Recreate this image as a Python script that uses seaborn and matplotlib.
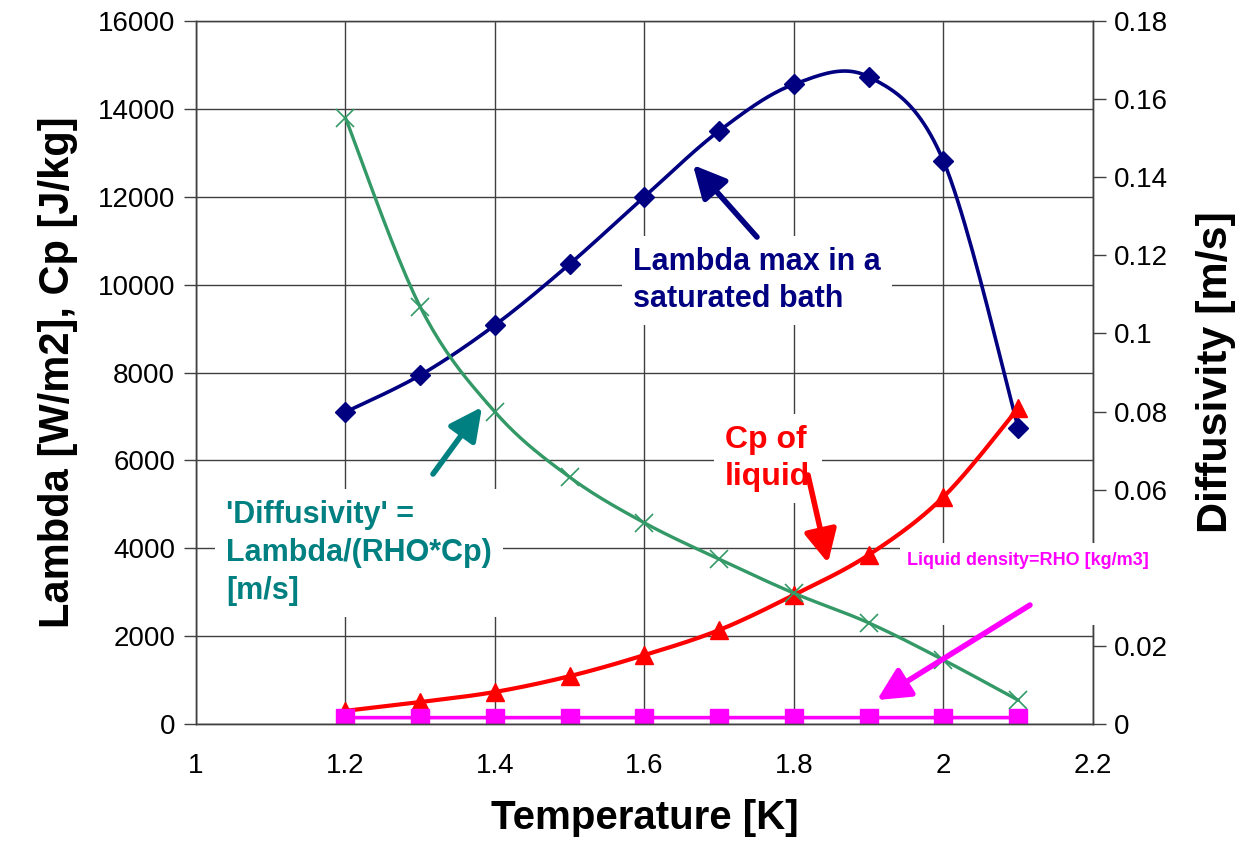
import numpy as np
import pandas as pd
import matplotlib.pyplot as plt
import matplotlib.patches as mpatches
import seaborn as sns

sns.set_style("white")
plt.rcParams['font.family'] = ['Liberation Sans', 'DejaVu Sans']

temperature = [1.2, 1.3, 1.4, 1.5, 1.6, 1.7, 1.8, 1.9, 2.0, 2.1]
lambda_max = [7100, 7940, 9080, 10470, 12000, 13500, 14560, 14730, 12810, 6740]
cp_liquid = [300, 500, 730, 1090, 1570, 2140, 2940, 3850, 5170, 7190]
rho_liquid = [145.3, 145.3, 145.4, 145.4, 145.5, 145.6, 145.7, 145.9, 146.1, 146.2]
diffusivity = [0.1552, 0.1068, 0.0799, 0.0632, 0.0515, 0.0422, 0.0335, 0.0259, 0.0164, 0.0061]

df = pd.DataFrame({"T": temperature, "lambda": lambda_max, "cp": cp_liquid,
                   "rho": rho_liquid, "diff": diffusivity})


def smooth(x, y, n=24):
    # excel-like smoothed line (catmull-rom through the points)
    p = np.column_stack([x, y]).astype(float)
    p = np.vstack([p[0], p, p[-1]])
    out = []
    t = np.linspace(0, 1, n)[:, None]
    for i in range(1, len(p) - 2):
        p0, p1, p2, p3 = p[i - 1], p[i], p[i + 1], p[i + 2]
        seg = 0.5 * ((2 * p1) + (-p0 + p2) * t + (2 * p0 - 5 * p1 + 4 * p2 - p3) * t ** 2
                     + (-p0 + 3 * p1 - 3 * p2 + p3) * t ** 3)
        out.append(seg)
    s = np.vstack(out)
    return pd.DataFrame({"x": s[:, 0], "y": s[:, 1]})


fig = plt.figure(figsize=(12.53, 8.64), dpi=100)
ax = fig.add_axes([0.1564, 0.162, 0.8723 - 0.1564, 0.9757 - 0.162])
ax2 = ax.twinx()

navy, red, mag, green = "#000080", "#FF0000", "#FF00FF", "#339966"

for col, c, lw, mk, ms in [("lambda", navy, 2.6, "D", 10), ("cp", red, 3.0, "^", 13),
                           ("rho", mag, 2.6, "s", 12.5)]:
    sm = smooth(df["T"], df[col])
    sns.lineplot(data=sm, x="x", y="y", ax=ax, color=c, lw=lw, sort=False, estimator=None)
    ax.plot(df["T"], df[col], ls="none", marker=mk, ms=ms, color=c, mec=c)

sm = smooth(df["T"], df["diff"])
sns.lineplot(data=sm, x="x", y="y", ax=ax2, color=green, lw=2.4, sort=False, estimator=None)
ax2.plot(df["T"], df["diff"], ls="none", marker="x", ms=13, mew=1.2, color=green)

ax.set_xlim(1, 2.2)
ax.set_ylim(0, 16000)
ax2.set_ylim(0, 0.18)
ax.set_xticks(np.arange(1, 2.21, 0.2))
ax.set_xticklabels(["1", "1.2", "1.4", "1.6", "1.8", "2", "2.2"])
ax.set_yticks(np.arange(0, 16001, 2000))
ax2.set_yticks(np.arange(0, 0.181, 0.02))
ax2.set_yticklabels(["0", "0.02", "0.04", "0.06", "0.08", "0.1", "0.12", "0.14", "0.16", "0.18"])

ax.grid(True, color="#404040", lw=1)
ax2.grid(False)
for a in (ax, ax2):
    a.tick_params(labelsize=20, direction="out", length=9, width=1, colors="#404040",
                  labelcolor="black", pad=6)
    for s in a.spines.values():
        s.set_color("#404040")
        s.set_linewidth(1)
ax.spines["top"].set_color("#999999")
ax.tick_params(axis="x", pad=12)

ax.set_xlabel("Temperature [K]", fontsize=29, fontweight="bold", labelpad=14, color="black")
ax.set_ylabel("Lambda [W/m2], Cp [J/kg]", fontsize=30, fontweight="bold", labelpad=14,
              color="black")
ax2.set_ylabel("Diffusivity [m/s]", fontsize=31, fontweight="bold", labelpad=20, color="black")

box = dict(facecolor="white", edgecolor="none", pad=8)
tr = ax.transData
ax2.text(1.585, 10856, "Lambda max in a\nsaturated bath", transform=tr, color=navy,
         fontsize=22, fontweight="bold", va="top", ha="left", linespacing=1.3, bbox=box, zorder=5)
ax2.text(1.040, 5098, "'Diffusivity' =\nLambda/(RHO*Cp)\n[m/s]", transform=tr, color="#008080",
         fontsize=22, fontweight="bold", va="top", ha="left", linespacing=1.35, bbox=box, zorder=5)
ax2.text(1.708, 6805, "Cp of\nliquid", transform=tr, color=red,
         fontsize=23, fontweight="bold", va="top", ha="left", linespacing=1.3, bbox=box, zorder=5)

# white text box behind the density label, it sits over the right spine and the 0.04 label
ax2.add_patch(mpatches.Rectangle((0.785, 0.1408), 0.30, 0.1167, transform=ax.transAxes,
                                 facecolor="white", edgecolor="none", clip_on=False, zorder=4))
ax2.text(1.951, 3732, "Liquid density=RHO [kg/m3]", transform=tr, color=mag, clip_on=False,
         fontsize=13, fontweight="bold", va="center", ha="left", zorder=5)

arrows = [((1.7505, 11083), (1.6649, 12722), navy),
          ((1.3171, 5690), (1.3826, 7214), "#008080"),
          ((1.8187, 5667), (1.8455, 3664), red),
          ((2.1157, 2708), (1.9110, 546), mag)]
for tail, head, c in arrows:
    ax2.annotate("", xy=head, xytext=tail, xycoords=tr, textcoords=tr, zorder=6,
                 arrowprops=dict(arrowstyle="-|>,head_length=0.9,head_width=0.45",
                                 color=c, lw=4, mutation_scale=22, shrinkA=0, shrinkB=0))

fig.canvas.draw()
# the 0.04 tick label is hidden behind the text box in the original
ax2.get_yticklabels()[2].set_visible(False)

plt.savefig("out.png", dpi=100)
